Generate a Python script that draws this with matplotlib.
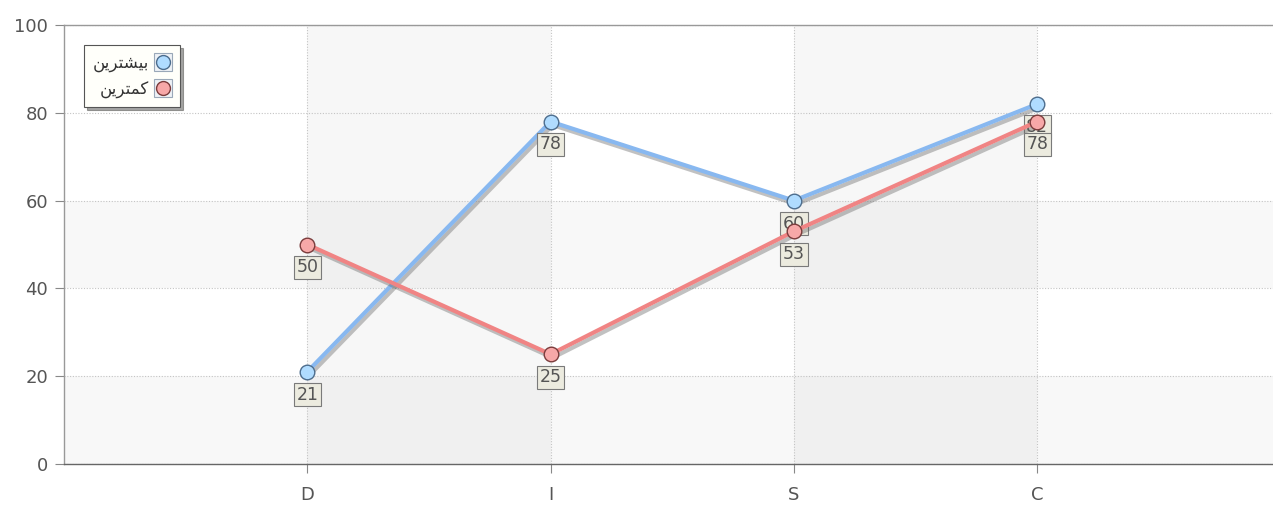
import matplotlib
matplotlib.use("Agg")
import matplotlib.pyplot as plt
import matplotlib.patheffects as pe
from matplotlib.lines import Line2D

# data
categories = ["D", "I", "S", "C"]
most_values = [21, 78, 60, 82]
least_values = [50, 25, 53, 78]
# Persian labels written in visual order with Arabic presentation forms,
# since matplotlib does no shaping: "بیشترین" and "کمترین"
most_label = "\uFEE6\uFEF3\uFEAE\uFE98\uFEB8\uFEF4\uFE91"
least_label = "\uFEE6\uFEF3\uFEAE\uFE98\uFEE4\uFEDB"
y_ticks = [0, 20, 40, 60, 80, 100]

plt.rcParams['font.family'] = ['DejaVu Sans']

W, H = 1273, 505
fig = plt.figure(figsize=(W / 100, H / 100), dpi=100)
ax = fig.add_axes([64 / W, (H - 464) / H, (W - 64) / W, 439 / H])

x = list(range(len(categories)))
px_per_cat = 243.3
ax.set_xlim(-1, -1 + (W - 64) / px_per_cat)
ax.set_ylim(0, 100)

# background bands
for lo in (0, 40):
    ax.axhspan(lo, lo + 20, color='#000000', alpha=0.028, lw=0, zorder=0)
for lo in (0, 2):
    ax.axvspan(lo, lo + 1, color='#000000', alpha=0.03, lw=0, zorder=0)

ax.grid(True, color='#c4c4c4', linestyle=(0, (1, 1.5)), linewidth=0.8, zorder=1)
ax.set_axisbelow(True)

shadow = [pe.SimpleLineShadow(offset=(1.5, -2.5), shadow_color='#666666', alpha=0.4),
          pe.Normal()]

series = [
    (most_values, '#88b8f0', '#b0dcff', '#4d6d8d', most_label),
    (least_values, '#f08484', '#f7a8a8', '#7a3c3c', least_label),
]
handles = []
for i, (vals, lc, fc, ec, lab) in enumerate(series):
    z = 3 + 3 * i
    ax.plot(x, vals, color=lc, lw=3.0, solid_capstyle='round', zorder=z,
            path_effects=shadow)
    ax.plot(x, vals, ls='none', marker='o', ms=10.5, mfc=fc, mec=ec, mew=1, zorder=z + 1)
    for xi, v in zip(x, vals):
        ax.annotate(str(v), (xi, v), xytext=(0, -16.5), textcoords='offset points',
                    ha='center', va='center', fontsize=12.5, color='#555555', zorder=z + 2,
                    bbox=dict(boxstyle='square,pad=0.15', fc='#ecebdf', ec='#7a7a7a', lw=0.8))
    box = Line2D([], [], ls='none', marker='s', ms=13, mfc='#eef2f6', mec='#9aa8b8', mew=0.8)
    dot = Line2D([], [], ls='none', marker='o', ms=10, mfc=fc, mec=ec, mew=1)
    handles.append(((box, dot), lab))

leg = ax.legend([h for h, _ in handles], [l for _, l in handles],
                loc='upper left', bbox_to_anchor=(0.0165, 0.954), markerfirst=False,
                prop={'size': 12}, frameon=True, fancybox=False, shadow=True,
                framealpha=1, edgecolor='#555555', facecolor='#fffffa',
                handlelength=1.1, handletextpad=0.3, borderpad=0.5, labelspacing=0.5,
                borderaxespad=0)
leg.set_zorder(20)
leg.get_frame().set_linewidth(0.8)
for t in leg.get_texts():
    t.set_color('#333333')

ax.set_xticks(x)
ax.set_xticklabels(categories)
ax.set_yticks(y_ticks)
ax.tick_params(axis='both', colors='#888888', labelcolor='#555555', labelsize=13,
               length=6.5, width=0.8, direction='out')
ax.tick_params(axis='x', pad=9)
ax.tick_params(axis='y', pad=5)

ax.spines['right'].set_visible(False)
ax.spines['top'].set_color('#999999')
ax.spines['left'].set_color('#999999')
ax.spines['bottom'].set_color('#666666')
for s in ('top', 'left', 'bottom'):
    ax.spines[s].set_linewidth(1.0)

fig.savefig('out.png', dpi=100)
